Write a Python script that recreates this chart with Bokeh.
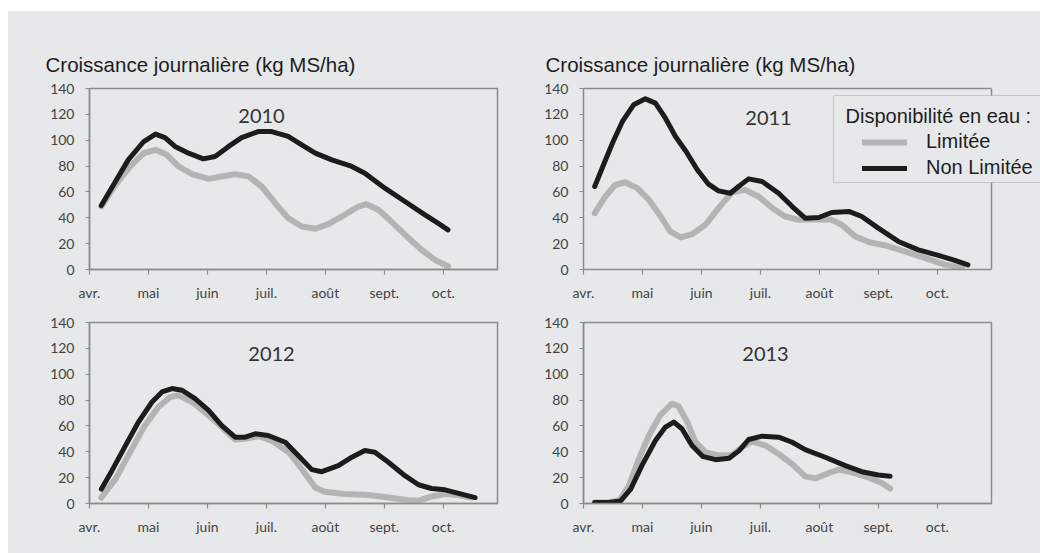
from bokeh.plotting import figure
from bokeh.models import (Range1d, FixedTicker, Label, Legend, LegendItem, BoxAnnotation,
                          Spacer, Title, LinearAxis, Span)
from bokeh.layouts import column, row
from bokeh.embed import file_html
from bokeh.resources import INLINE

# ---------------- data (x = months after 1 April) ----------------
months = ["avr.", "mai", "juin", "juil.", "août", "sept.", "oct."]
y_ticks = [0, 20, 40, 60, 80, 100, 120, 140]
y_title = "Croissance journalière (kg MS/ha)"
legend_title = "Disponibilité en eau :"
series_names = ["Limitée", "Non Limitée"]
x_end = 6.92          # end of the month axis (just before November)

x2010_lim = [0.2, 0.44, 0.69, 0.92, 1.12, 1.31, 1.51, 1.74, 2.02, 2.24, 2.47, 2.70, 2.92, 3.15,
             3.37, 3.60, 3.83, 4.05, 4.33, 4.56, 4.70, 4.90, 5.12, 5.41, 5.63, 5.86, 6.08]
y2010_lim = [48.7, 65.5, 79.7, 90, 92.6, 88.7, 79.7, 73.8, 70.1, 71.9, 73.8, 71.9, 64.2, 51.3,
             39.7, 33.3, 31.5, 35.1, 42.3, 48.7, 50.5, 46.2, 37.1, 24.3, 15.3, 7.5, 2.3]
x2010_non = [0.2, 0.44, 0.66, 0.92, 1.12, 1.28, 1.45, 1.68, 1.93, 2.13, 2.36, 2.58, 2.86, 3.09,
             3.37, 3.60, 3.83, 4.11, 4.45, 4.67, 5.01, 5.35, 5.69, 5.91, 6.08]
y2010_non = [49.5, 68, 85, 99, 104.7, 102, 95.2, 90, 85.6, 87.4, 95.2, 102, 106.7, 106.7,
             102.9, 96.4, 90, 84.8, 79.7, 74.5, 62.9, 52.6, 42.3, 35.8, 30.7]

x2011_lim = [0.19, 0.37, 0.54, 0.71, 0.91, 1.11, 1.31, 1.47, 1.65, 1.84, 2.07, 2.29, 2.52, 2.74,
             2.97, 3.20, 3.42, 3.65, 3.88, 4.21, 4.38, 4.61, 4.84, 5.12, 5.46, 5.80, 6.14, 6.42]
y2011_lim = [43.6, 56.5, 65.5, 67.5, 62.9, 53.9, 41, 29.4, 24.8, 27.3, 34.6, 47.5, 59.8, 61.6,
             56.5, 47.5, 41, 38.4, 38.9, 38.4, 34.6, 25.5, 21.2, 18.6, 13.9, 8.8, 3.6, 1.6]
x2011_non = [0.19, 0.34, 0.49, 0.66, 0.85, 1.05, 1.22, 1.39, 1.56, 1.74, 1.93, 2.12, 2.29, 2.49,
             2.63, 2.80, 3.03, 3.31, 3.54, 3.76, 3.99, 4.21, 4.50, 4.72, 5.0, 5.34, 5.68, 6.02, 6.30, 6.52]
y2011_non = [64.2, 81, 97.7, 114.5, 127.4, 132, 128.7, 117, 102.9, 91.3, 77.1, 66, 60.8, 59,
             64.2, 70.1, 68.1, 59, 48.7, 39.7, 40.2, 44.1, 44.9, 41, 32, 21.7, 15.2, 10.9, 7, 3.6]

x2012_lim = [0.2, 0.44, 0.72, 0.94, 1.17, 1.37, 1.51, 1.74, 2.02, 2.24, 2.47, 2.64, 2.87, 3.09,
             3.38, 3.60, 3.83, 3.99, 4.33, 4.73, 5.07, 5.41, 5.58, 5.80, 6.03, 6.25, 6.48]
y2012_lim = [4.6, 18.9, 42.3, 60.4, 74.7, 82.4, 83.7, 78.5, 68.2, 59.1, 49.5, 50, 52.1, 48.7,
             39.7, 26.7, 12.4, 9.1, 7.3, 6.5, 4.6, 2.5, 2.2, 5.4, 7.3, 6.5, 4.6]
x2012_non = [0.2, 0.38, 0.61, 0.83, 1.06, 1.23, 1.40, 1.57, 1.79, 2.02, 2.24, 2.47, 2.64, 2.81,
             3.03, 3.32, 3.54, 3.77, 3.94, 4.22, 4.45, 4.67, 4.84, 5.07, 5.35, 5.58, 5.80, 6.03, 6.31, 6.54]
y2012_non = [11.1, 25.4, 44.8, 63, 78.5, 86.3, 88.9, 87.6, 81.1, 72, 60.4, 51.3, 51.3, 53.9,
             52.6, 47.4, 37.1, 26.2, 24.6, 29.3, 35.8, 41, 39.7, 31.9, 21.5, 14.5, 11.6, 10.6, 7.2, 4.6]

x2013_lim = [0.19, 0.43, 0.61, 0.77, 0.94, 1.11, 1.30, 1.50, 1.61, 1.76, 1.90, 2.07, 2.29, 2.52,
             2.69, 2.86, 3.09, 3.31, 3.54, 3.76, 3.93, 4.16, 4.33, 4.55, 4.83, 5.06, 5.20]
y2013_lim = [0.8, 0.8, 2.5, 13.7, 34.5, 52.6, 68.2, 77.2, 75.4, 63, 47.4, 39.6, 37.1, 37.6,
             43.5, 48, 44.8, 38.3, 30.5, 21, 19.4, 23.6, 26.2, 24.1, 20.2, 15.8, 11.6]
x2013_non = [0.19, 0.43, 0.63, 0.80, 0.99, 1.22, 1.39, 1.53, 1.67, 1.84, 2.02, 2.24, 2.47, 2.64,
             2.80, 3.03, 3.31, 3.54, 3.76, 4.10, 4.44, 4.72, 5.0, 5.20]
y2013_non = [0.8, 0.8, 2, 11.1, 29.3, 48.7, 59.1, 63, 57.8, 44.8, 36.5, 33.9, 35, 40.9,
             49.5, 52.1, 51.3, 47.4, 41.7, 35.8, 29.3, 24.6, 22, 21]

# ---------------- style ----------------
BG = "#e7e8ea"
AX = "#8c8c8c"
GRAY = "#b4b4b4"
BLACK = "#1c1c1c"
TXT = "#333333"
PX_PER_MONTH = 408 / x_end


def make_panel(w, h, left, right, top, bottom, year, year_x, year_y,
               xl, yl, xn, yn, title_offset=None, open_right=False):
    frame_w = w - left - right
    x_max = frame_w / PX_PER_MONTH
    p = figure(width=w, height=h, output_backend="svg", toolbar_location=None, title=None,
               x_range=Range1d(0, x_max), y_range=Range1d(0, 140),
               min_border_left=left, min_border_right=right,
               min_border_top=top, min_border_bottom=bottom,
               background_fill_color=BG, border_fill_color=BG,
               outline_line_color=None if open_right else AX, outline_line_width=1.5)
    p.grid.visible = False
    p.xaxis.ticker = FixedTicker(ticks=list(range(len(months))))
    p.xaxis.major_label_overrides = {i: m for i, m in enumerate(months)}
    p.yaxis.ticker = FixedTicker(ticks=y_ticks)
    for ax in (p.xaxis[0], p.yaxis[0]):
        ax.axis_line_color = AX
        ax.axis_line_width = 1.5
        ax.major_tick_line_color = AX
        ax.major_tick_line_width = 1.2
        ax.minor_tick_line_color = None
        ax.major_tick_in = 0
        ax.major_label_text_font = "Lato"
        ax.major_label_text_font_size = "14px"
        ax.major_label_text_color = "#444444"
    p.xaxis.major_tick_out = 5
    p.xaxis.major_label_standoff = 9
    p.yaxis.major_tick_out = 4
    p.yaxis.major_label_standoff = 11

    if open_right:
        # frame runs to the canvas edge; redraw the chart box only up to x_end
        p.xaxis.bounds = (0, x_end)
        top_ax = LinearAxis(ticker=FixedTicker(ticks=[]), bounds=(0, x_end),
                            axis_line_color=AX, axis_line_width=1.5,
                            major_tick_out=0, major_tick_in=0, minor_tick_out=0,
                            minor_tick_in=0, major_label_standoff=0,
                            major_label_text_font_size="0px")
        p.add_layout(top_ax, "above")
        p.add_layout(Span(location=x_end, dimension="height", line_color=AX, line_width=1.5))

    rl = p.line(xl, yl, line_color=GRAY, line_width=6, line_cap="round", line_join="round")
    rn = p.line(xn, yn, line_color=BLACK, line_width=5, line_cap="round", line_join="round")

    p.add_layout(Label(x=year_x, y=year_y, x_units="screen", y_units="screen", text=year,
                       text_align="center", text_baseline="middle", text_font="Lato",
                       text_font_size="20px", text_color=TXT))
    if title_offset is not None:
        p.add_layout(Title(text=y_title, align="left", offset=title_offset, standoff=26,
                           text_font="Liberation Sans", text_font_size="20.5px",
                           text_font_style="normal", text_color="#1e1e1e"), "above")
    return p, rl, rn


p1, _, _ = make_panel(512, 300, 81, 23, 77, 42, "2010", 172, 154,
                      x2010_lim, y2010_lim, x2010_non, y2010_non, title_offset=-44)
p2, r2l, r2n = make_panel(520, 300, 63, 0, 77, 42, "2011", 185, 152,
                          x2011_lim, y2011_lim, x2011_non, y2011_non, title_offset=-38,
                          open_right=True)
p3, _, _ = make_panel(512, 242, 81, 23, 11, 50, "2012", 182, 150,
                      x2012_lim, y2012_lim, x2012_non, y2012_non)
p4, _, _ = make_panel(520, 242, 63, 49, 11, 50, "2013", 182, 150,
                      x2013_lim, y2013_lim, x2013_non, y2013_non)

# legend in the 2011 panel (box cut by the right edge, as in the original)
p2.add_layout(BoxAnnotation(left=250, right=490, top=174, bottom=87,
                            left_units="screen", right_units="screen",
                            top_units="screen", bottom_units="screen",
                            fill_color=BG, fill_alpha=1.0,
                            line_color="#7a7a7a", line_width=1.2))
p2.add_layout(Label(x=262, y=154, x_units="screen", y_units="screen", text=legend_title,
                    text_align="left", text_baseline="middle", text_font="Liberation Sans",
                    text_font_size="20px", text_color="#1e1e1e"))
leg = Legend(items=[LegendItem(label=series_names[0], renderers=[r2l]),
                    LegendItem(label=series_names[1], renderers=[r2n])],
             location=(279, 90), orientation="vertical", padding=0, margin=0, spacing=3,
             glyph_width=45, glyph_height=20, label_height=20, label_standoff=19,
             label_text_font="Liberation Sans", label_text_font_size="20px",
             label_text_color="#1e1e1e", border_line_color=None, background_fill_alpha=0)
p2.add_layout(leg)

grid = column(row(p1, p2, spacing=0, styles={"background-color": BG}),
              row(p3, p4, spacing=0, styles={"background-color": BG}),
              spacing=0, styles={"background-color": BG})
layout = column(Spacer(width=1040, height=11),
                row(Spacer(width=8, height=542), grid, spacing=0),
                spacing=0)

open("out.html", "w").write(file_html(layout, INLINE))
